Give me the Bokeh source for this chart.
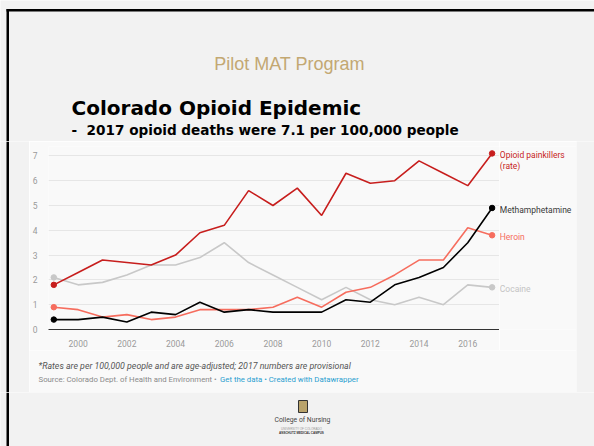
from bokeh.plotting import figure
from bokeh.models import Range1d, FixedTicker
from bokeh.layouts import row, column
from bokeh.core.properties import value
from bokeh.embed import file_html
from bokeh.resources import INLINE

# ---------------- data ----------------
years = list(range(1999, 2018))
opioid_painkillers = [1.8, 2.3, 2.8, 2.7, 2.6, 3.0, 3.9, 4.2, 5.6, 5.0, 5.7, 4.6, 6.3, 5.9, 6.0, 6.8, 6.3, 5.8, 7.1]
methamphetamine = [0.4, 0.4, 0.5, 0.3, 0.7, 0.6, 1.1, 0.7, 0.8, 0.7, 0.7, 0.7, 1.2, 1.1, 1.8, 2.1, 2.5, 3.5, 4.9]
heroin = [0.9, 0.8, 0.5, 0.6, 0.4, 0.5, 0.8, 0.8, 0.8, 0.9, 1.3, 0.9, 1.5, 1.7, 2.2, 2.8, 2.8, 4.1, 3.8]
cocaine = [2.1, 1.8, 1.9, 2.2, 2.6, 2.6, 2.9, 3.5, 2.7, 2.2, 1.7, 1.2, 1.7, 1.2, 1.0, 1.3, 1.0, 1.8, 1.7]

series_names = ["Cocaine", "Heroin", "Methamphetamine", "Opioid painkillers"]
series_values = [cocaine, heroin, methamphetamine, opioid_painkillers]
series_colors = ["#c8c8c8", "#f66d5e", "#000000", "#c71e1d"]
label_colors = ["#c4c4c4", "#f66d5e", "#3a3a3a", "#c71e1d"]

x_ticks = [2000, 2002, 2004, 2006, 2008, 2010, 2012, 2014, 2016]
y_ticks = [0, 1, 2, 3, 4, 5, 6, 7]

slide_title = "Pilot MAT Program"
heading = "Colorado Opioid Epidemic"
subheading = "-\u00a0 2017 opioid deaths were 7.1 per 100,000 people"
footnote = "*Rates are per 100,000 people and are age-adjusted; 2017 numbers are provisional"
source_text = "Source: Colorado Dept. of Health and Environment \u2022"
source_links = "Get the data \u2022 Created with Datawrapper"

SLIDE = "#f2f2f2"
PANEL = "#f9f9f9"


def deco(x0, x1, y0, y1, bg):
    """A figure whose frame is the whole figure, in page pixel coordinates (y down)."""
    f = figure(width=x1 - x0, height=y1 - y0, x_range=Range1d(x0, x1), y_range=Range1d(y1, y0),
               output_backend="svg", toolbar_location=None, min_border=0,
               x_axis_location=None, y_axis_location=None,
               background_fill_color=bg, border_fill_color=bg, outline_line_color=None)
    f.xgrid.visible = False
    f.ygrid.visible = False
    return f


def txt(f, x, y, s, font, size, color, style="normal", align="left", baseline="middle"):
    f.text(x=[x], y=[y], text=[s], text_font=value(font), text_font_size=value(size),
           text_font_style=style, text_color=color, text_align=align, text_baseline=baseline)


# ---------------- header (y 0..141) ----------------
header = deco(0, 594, 0, 141, SLIDE)
header.quad(left=[6], right=[594], top=[8.5], bottom=[11], fill_color="#000000", line_color=None)
header.quad(left=[6], right=[8.5], top=[8.5], bottom=[141], fill_color="#000000", line_color=None)
txt(header, 289, 63.5, slide_title, "Liberation Sans", "18px", "#c3a872", align="center")
txt(header, 71, 107.5, heading, "DejaVu Sans", "20px", "#000000", style="bold")
txt(header, 71, 129.5, subheading, "DejaVu Sans", "13.6px", "#000000", style="bold")

# ---------------- side strips (y 141..392) ----------------
left_strip = deco(0, 29, 141, 392, SLIDE)
left_strip.quad(left=[6], right=[8.5], top=[141], bottom=[392], fill_color="#000000", line_color=None)
right_strip = deco(576, 594, 141, 392, SLIDE)

# ---------------- chart (x 29..499, y 141..350) ----------------
yr = Range1d(0, 7.379)
chart = figure(width=470, height=209, output_backend="svg", toolbar_location=None,
               x_range=Range1d(1998.782, 2017.304), y_range=yr,
               min_border_left=19, min_border_right=0, min_border_top=5, min_border_bottom=21,
               background_fill_color=PANEL, border_fill_color=PANEL, outline_line_color=None)
chart.xaxis.ticker = FixedTicker(ticks=x_ticks)
chart.yaxis.ticker = FixedTicker(ticks=y_ticks)
chart.xaxis.major_label_overrides = {t: str(t) for t in x_ticks}
for ax in (chart.xaxis, chart.yaxis):
    ax.major_tick_line_color = None
    ax.minor_tick_line_color = None
    ax.major_label_text_font = "Roboto"
    ax.major_label_text_font_size = "8.5px"
    ax.major_label_text_color = "#999999"
chart.yaxis.axis_line_color = None
chart.yaxis.major_label_standoff = 5
chart.xaxis.axis_line_color = "#333333"
chart.xaxis.axis_line_width = 1
chart.xaxis.major_label_standoff = 4
chart.xgrid.grid_line_color = None
chart.ygrid.grid_line_color = "#e6e6e6"
chart.ygrid.grid_line_width = 1

for vals, col in zip(series_values, series_colors):
    chart.line(years, vals, line_color=col, line_width=1.6)
    chart.scatter([years[0], years[-1]], [vals[0], vals[-1]], size=5.5,
                  fill_color=col, line_color=col)

# ---------------- end labels (x 499..576, same y scale) ----------------
labels_fig = figure(width=77, height=209, output_backend="svg", toolbar_location=None,
                    x_range=Range1d(0, 77), y_range=yr,
                    min_border_left=0, min_border_right=0, min_border_top=5, min_border_bottom=21,
                    x_axis_location=None, y_axis_location=None,
                    background_fill_color=PANEL, border_fill_color=PANEL, outline_line_color=None)
labels_fig.xgrid.visible = False
labels_fig.ygrid.visible = False
for name, vals, col in zip(series_names, series_values, label_colors):
    if name == "Opioid painkillers":
        lines = ["Opioid painkillers", "(rate)"]
    else:
        lines = [name]
    for k, line_text in enumerate(lines):
        labels_fig.text(x=[0.3], y=[vals[-1]], text=[line_text], y_offset=2 + 10.5 * k,
                        text_font=value("Roboto"), text_font_size=value("8.5px"),
                        text_color=col, text_align="left", text_baseline="middle")

# ---------------- footnotes (x 29..576, y 350..392) ----------------
foot = deco(29, 576, 350, 392, PANEL)
txt(foot, 38, 365.5, footnote, "Roboto", "8.8px", "#555555", style="italic")
txt(foot, 38, 379.3, source_text, "Roboto", "7.8px", "#8a8a8a")
txt(foot, 219.5, 379.3, source_links, "Roboto", "7.8px", "#2a9fd0")

# ---------------- bottom (y 392..446) ----------------
bottom = deco(0, 594, 392, 446, SLIDE)
bottom.quad(left=[6], right=[8.5], top=[392], bottom=[446], fill_color="#000000", line_color=None)
bottom.quad(left=[298], right=[307], top=[400], bottom=[412], fill_color="#b9a36b",
            line_color="#333333", line_width=1)
txt(bottom, 302, 419.5, "College of Nursing", "Roboto", "6.8px", "#444444", align="center")
txt(bottom, 301, 428.5, "UNIVERSITY OF COLORADO", "Liberation Sans", "3px", "#999999", align="center")
txt(bottom, 301, 432.5, "ANSCHUTZ MEDICAL CAMPUS", "Liberation Sans", "3px", "#333333",
    style="bold", align="center")

layout = column(
    header,
    row(left_strip, column(row(chart, labels_fig), foot), right_strip),
    bottom,
)

open("out.html", "w").write(file_html(layout, INLINE))
